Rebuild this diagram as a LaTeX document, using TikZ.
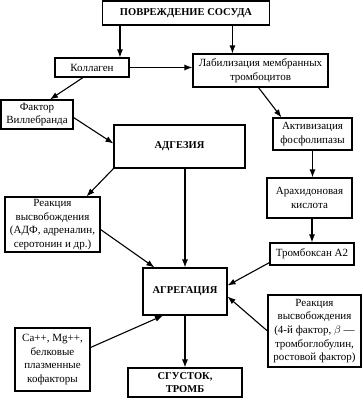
\documentclass[tikz,border=0pt]{standalone}
\usepackage{fontspec}
\setmainfont{Liberation Serif}
\usetikzlibrary{arrows.meta}

\begin{document}
\begin{tikzpicture}[
  x=1pt, y=-1pt,
  font=\fontsize{11}{13.6}\selectfont,
  box/.style={draw, line width=1.1pt, align=center, inner sep=1pt},
  head/.style={box, font=\fontsize{10.5}{12.5}\selectfont\bfseries},
  arr/.style={-{Latex[length=8pt,width=6pt]}, line width=1.1pt}
]
\useasboundingbox (0,0) rectangle (363,399);
% --- top part ------------------------------------------------------------
\node[head, minimum width=167pt, minimum height=24pt] (damage) at (186,13) {ПОВРЕЖДЕНИЕ СОСУДА};
\node[box, minimum width=74pt, minimum height=19pt] (collagen) at (92,67.5) {Коллаген};
\node[box, minimum width=135pt, minimum height=33pt] (labil) at (260.5,70.5)
  {Лабилизация мембранных\\ тромбоцитов};
\node[box, minimum width=72pt, minimum height=29pt] (willeb) at (37,114.5)
  {Фактор\\ Виллебранда};
\node[head, minimum width=131pt, minimum height=43pt] (adhes) at (179.5,146.5) {АДГЕЗИЯ};
% --- right column --------------------------------------------------------
\node[box, minimum width=79pt, minimum height=32pt] (lipase) at (312.5,134)
  {Активизация\\ фосфолипазы};
\node[box, minimum width=85pt, minimum height=40pt] (arach) at (309.5,198)
  {Арахидоновая\\ кислота};
\node[box, minimum width=84pt, minimum height=22pt] (thromb) at (312,254) {Тромбоксан А2};
% --- middle and bottom ---------------------------------------------------
\node[box, minimum width=95pt, minimum height=55pt] (relA) at (52.5,224.5)
  {Реакция\\ высвобождения\\ (АДФ, адреналин,\\ серотонин и др.)};
\node[head, minimum width=84pt, minimum height=47pt] (aggr) at (185,291.5) {АГРЕГАЦИЯ};
\node[box, minimum width=93pt, minimum height=72pt] (relB) at (314.5,331)
  {Реакция\\ высвобождения\\ (4-й фактор, $\beta$ ---\\ тромбоглобулин,\\ ростовой фактор)};
\node[box, minimum width=75pt, minimum height=63pt] (cofact) at (52.5,359.5)
  {Ca++, Mg++,\\ белковые\\ плазменные\\ кофакторы};
\node[head, minimum width=114pt, minimum height=29pt] (clot) at (185,382.5) {СГУСТОК,\\ ТРОМБ};
% --- arrows --------------------------------------------------------------
\draw[arr] ([xshift=18pt]damage.south west) -- ([xshift=18pt]damage.south west |- collagen.north);
\draw[arr] ([xshift=40pt]labil.north west |- damage.south) -- ([xshift=40pt]labil.north west);
\draw[arr] (collagen) -- (labil.west |- collagen);
\draw[arr] ([xshift=-9pt]collagen.south) -- ([xshift=13pt]willeb.north);
\draw[arr] ([yshift=-3pt]willeb.east) -- ([yshift=3pt]adhes.west);
\draw[arr] (adhes.south west) -- ([xshift=34pt]relA.north);
\draw[arr] (aggr.north |- adhes.south) -- (aggr.north);
\draw[arr] ([yshift=-5pt]relA.east) -- ([xshift=12pt]aggr.north west);
\draw[arr] ([xshift=-2pt]labil.south) -- ([xshift=9pt]lipase.north west);
\draw[arr] (lipase.south) -- (lipase.south |- arach.north);
\draw[arr] (thromb.north |- arach.south) -- (thromb.north);
\draw[arr] ([yshift=3pt]thromb.south west) -- ([yshift=6pt]aggr.east);
\draw[arr] (relB.west) -- ([yshift=-5pt]aggr.east);
\draw[arr] ([yshift=12pt]cofact.east) -- ([xshift=-22pt]aggr.south);
\draw[arr] (aggr.south) -- (aggr.south |- clot.north);
\end{tikzpicture}
\end{document}
